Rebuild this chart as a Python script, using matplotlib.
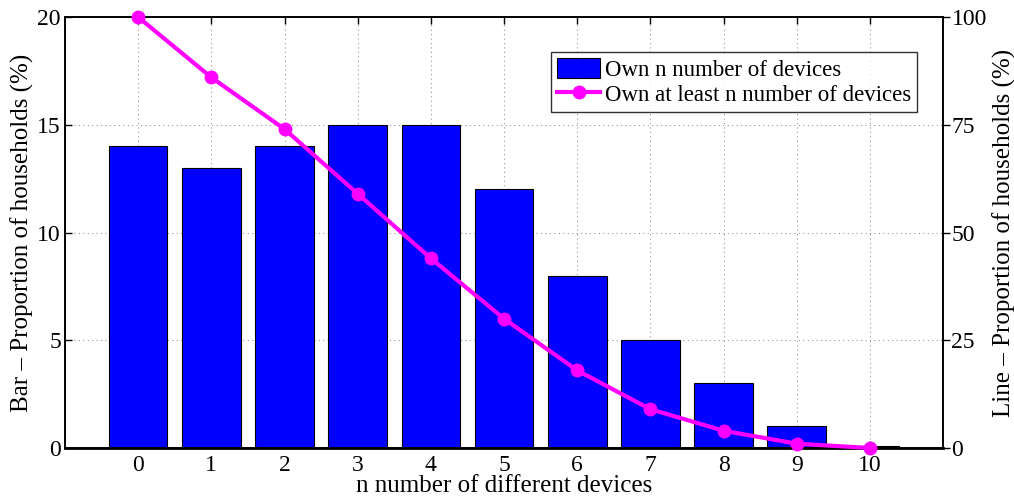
import matplotlib
matplotlib.use("Agg")
import matplotlib.pyplot as plt

plt.rcParams['font.family'] = ['Liberation Serif', 'DejaVu Serif']
plt.rcParams['mathtext.fontset'] = 'stix'

# Number of distinct devices owned
n_devices = [0, 1, 2, 3, 4, 5, 6, 7, 8, 9, 10]
# Share of households owning exactly n devices (%)
own_exactly = [14, 13, 14, 15, 15, 12, 8, 5, 3, 1, 0.1]
# Share of households owning at least n devices (%)
own_at_least = [100, 86, 74, 59, 44, 30, 18, 9, 4, 1, 0]

left_ticks = [0, 5, 10, 15, 20]
right_ticks = [0, 25, 50, 75, 100]

fig = plt.figure(figsize=(10.14, 4.97), dpi=100)
ax = fig.add_axes([0.0641, 0.0986, 0.866, 0.867])
ax2 = ax.twinx()

bars = ax.bar(n_devices, own_exactly, width=0.8, color='#0000ff',
              edgecolor='black', linewidth=0.8, zorder=2,
              label='Own n number of devices')
ax.set_xlim(-1, 11)
ax.set_ylim(0, 20)
ax.set_xticks(n_devices)
ax.set_yticks(left_ticks)
ax.grid(True, linestyle=(0, (1, 3)), color='#999999', linewidth=0.8, zorder=0)
ax.set_axisbelow(True)
ax.tick_params(axis='both', direction='in', labelsize=17, length=5,
               width=1, top=True)
ax.tick_params(axis='x', pad=5)
ax.tick_params(axis='y', pad=3)
ax.set_xlabel('n number of different devices', fontsize=18, va='baseline')
ax.xaxis.set_label_coords(0.5, -0.103)
ax.set_ylabel('Bar \u2013 Proportion of households (%)', fontsize=18, labelpad=2)

line, = ax2.plot(n_devices, own_at_least, color='#ff00ff', linewidth=3.0,
                 marker='o', markersize=9, clip_on=False, zorder=3,
                 label='Own at least n number of devices')
ax2.set_ylim(0, 100)
ax2.set_yticks(right_ticks)
ax2.tick_params(axis='y', direction='out', labelsize=17, length=5, width=1,
                pad=1)
ax2.set_ylabel('Line \u2013 Proportion of households (%)', fontsize=18,
               labelpad=4)

for a in (ax, ax2):
    for s in a.spines.values():
        s.set_linewidth(1.2)
ax.spines['bottom'].set_linewidth(2)

leg = ax2.legend([bars, line],
                 ['Own n number of devices', 'Own at least n number of devices'],
                 loc='upper left', bbox_to_anchor=(0.5535, 0.919),
                 fontsize=16.5, frameon=True, fancybox=False,
                 edgecolor='black', borderpad=0.25, handlelength=1.9,
                 handleheight=1.0, handletextpad=0.2, labelspacing=0.1,
                 borderaxespad=0)
leg.get_frame().set_linewidth(1.0)

fig.savefig('out.png', dpi=100)
